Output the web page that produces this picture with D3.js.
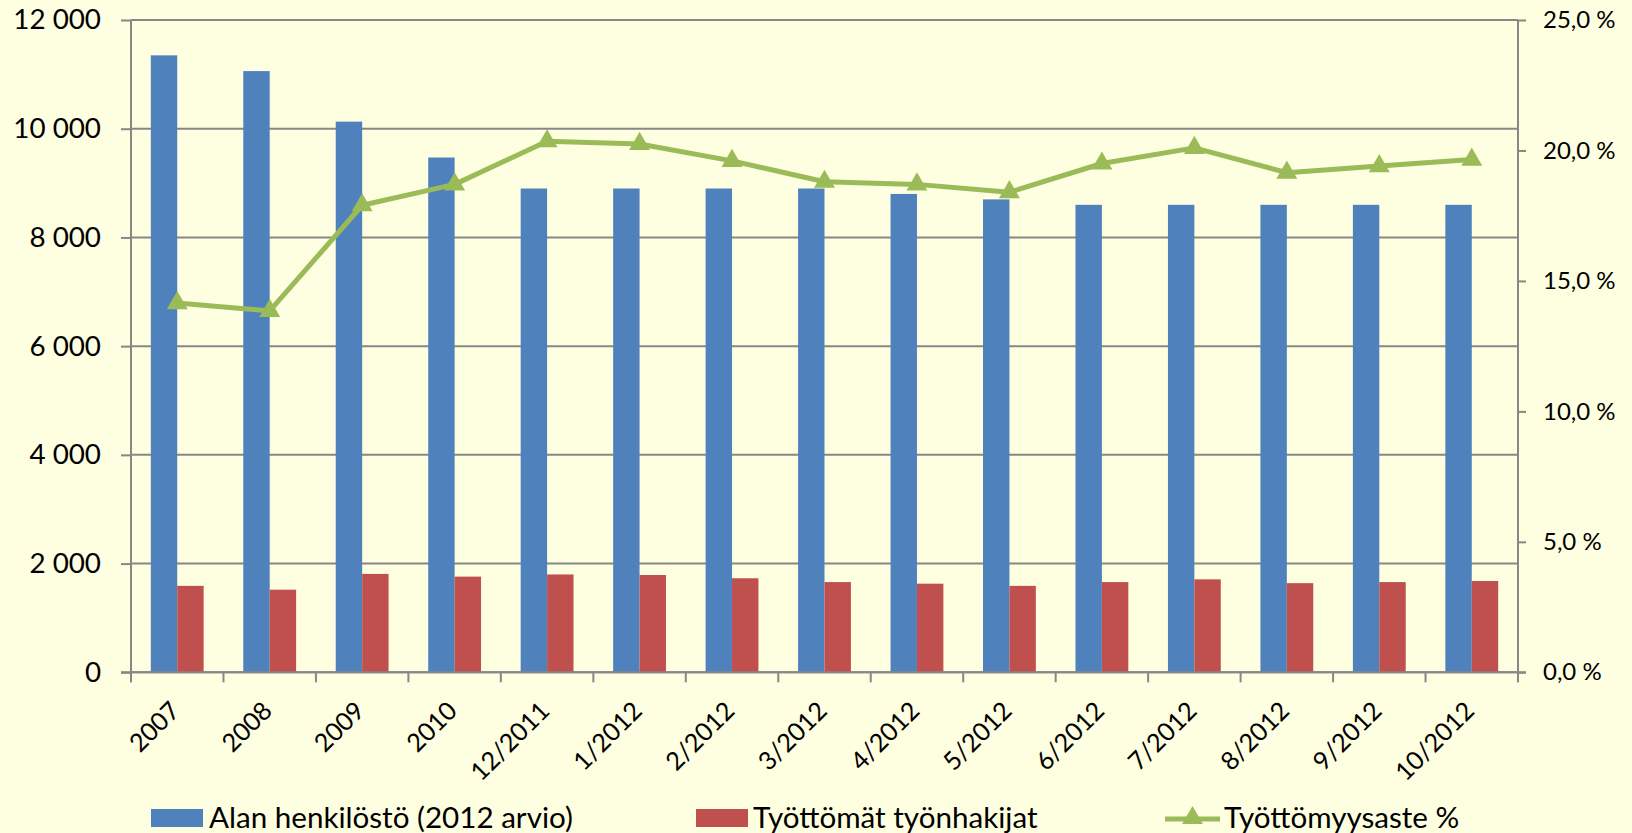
<!DOCTYPE html>
<html>
<head>
<meta charset="utf-8">
<script src="https://cdn.jsdelivr.net/npm/d3@7"></script>
<style>
  html, body { margin: 0; padding: 0; background: #FEFEE0; }
  svg { display: block; }
  text { font-family: Lato, "Liberation Sans", sans-serif; fill: #000; }
</style>
</head>
<body>
<svg id="chart" width="1632" height="833"></svg>
<script>
const categories = ["2007","2008","2009","2010","12/2011","1/2012","2/2012","3/2012","4/2012","5/2012","6/2012","7/2012","8/2012","9/2012","10/2012"];
const staff = [11350,11060,10130,9470,8900,8900,8900,8900,8800,8700,8600,8600,8600,8600,8600];
const unemployed = [1590,1520,1810,1760,1800,1790,1730,1660,1630,1590,1660,1710,1640,1660,1680];
const rate = [14.15,13.85,17.9,18.7,20.35,20.25,19.6,18.8,18.7,18.4,19.5,20.1,19.15,19.4,19.65];
const leftTicks = [0,2000,4000,6000,8000,10000,12000];
const rightTicks = [0,5,10,15,20,25];
const seriesNames = ["Alan henkilöstö (2012 arvio)","Työttömät työnhakijat","Työttömyysaste %"];
const colors = ["#4F81BD","#C0504D","#9BBB59"];

const svg = d3.select("#chart");
const L = 131, R = 1518, T = 20, B = 672.3;
const grid = "#878787";

const x = d3.scaleBand().domain(categories).range([L, R]).padding(0);
const yL = d3.scaleLinear().domain([0, 12000]).range([B, T]);
const yR = d3.scaleLinear().domain([0, 25]).range([B, T]);
const bw = x.bandwidth() / 3.5;

const loc = d3.formatLocale({decimal: ",", thousands: "\u00a0", grouping: [3], currency: ["", ""]});
const fmtL = loc.format(",d");
const fmtR = d => loc.format(".1f")(d) + "\u00a0%";

// gridlines
svg.append("g").selectAll("line").data(leftTicks).join("line")
  .attr("x1", L).attr("x2", R)
  .attr("y1", d => yL(d)).attr("y2", d => yL(d))
  .attr("stroke", grid).attr("stroke-width", 2);

// bars
const gBars = svg.append("g");
gBars.selectAll("rect.s").data(categories).join("rect")
  .attr("class", "s")
  .attr("x", d => x(d) + x.bandwidth() / 2 - bw)
  .attr("width", bw)
  .attr("y", (d, i) => yL(staff[i]))
  .attr("height", (d, i) => B - yL(staff[i]))
  .attr("fill", colors[0]);
gBars.selectAll("rect.u").data(categories).join("rect")
  .attr("class", "u")
  .attr("x", d => x(d) + x.bandwidth() / 2)
  .attr("width", bw)
  .attr("y", (d, i) => yL(unemployed[i]))
  .attr("height", (d, i) => B - yL(unemployed[i]))
  .attr("fill", colors[1]);

// left axis
const axL = svg.append("g").attr("transform", `translate(${L},0)`)
  .call(d3.axisLeft(yL).tickValues(leftTicks).tickFormat(fmtL).tickSize(10).tickPadding(20));
axL.select(".domain").attr("stroke", grid).attr("stroke-width", 2).attr("d", `M0,${T}V${B + 10}`);
axL.selectAll(".tick line").attr("stroke", grid).attr("stroke-width", 2);
axL.selectAll(".tick text").style("font-size", "27.8px").attr("font-family", null);

// right axis
const axR = svg.append("g").attr("transform", `translate(${R},0)`)
  .call(d3.axisRight(yR).tickValues(rightTicks).tickFormat(fmtR).tickSize(8).tickPadding(17));
axR.select(".domain").attr("stroke", grid).attr("stroke-width", 2).attr("d", `M0,${T}V${B + 10}`);
axR.selectAll(".tick line").attr("stroke", grid).attr("stroke-width", 2);
axR.selectAll(".tick text").style("font-size", "24px").attr("font-family", null);

// bottom axis
const gx = svg.append("g").attr("transform", `translate(0,${B})`);
gx.append("line").attr("x1", L - 10).attr("x2", R + 8).attr("stroke", grid).attr("stroke-width", 2);
const bounds = categories.map(c => x(c)).concat([R]);
gx.selectAll("line.t").data(bounds).join("line").attr("class", "t")
  .attr("x1", d => d).attr("x2", d => d).attr("y1", 0).attr("y2", 10)
  .attr("stroke", grid).attr("stroke-width", 2);
gx.selectAll("text").data(categories).join("text")
  .attr("transform", d => `translate(${x(d) + x.bandwidth() / 2 + 4},${40}) rotate(-45)`)
  .attr("text-anchor", "end")
  .style("font-size", "25.2px")
  .text(d => d);

// line
const line = d3.line().x((d, i) => x(categories[i]) + x.bandwidth() / 2).y(d => yR(d));
svg.append("path").datum(rate).attr("d", line)
  .attr("fill", "none").attr("stroke", colors[2]).attr("stroke-width", 5).attr("stroke-linejoin", "round");
const tri = d3.symbol().type(d3.symbolTriangle).size(190);
svg.append("g").selectAll("path").data(rate).join("path")
  .attr("transform", (d, i) => `translate(${x(categories[i]) + x.bandwidth() / 2},${yR(d)})`)
  .attr("d", tri).attr("fill", colors[2]);

// legend
const lg = svg.append("g");
lg.append("rect").attr("x", 151).attr("y", 809).attr("width", 52).attr("height", 18).attr("fill", colors[0]);
lg.append("text").attr("x", 209).attr("y", 828).style("font-size", "29.6px").text(seriesNames[0]);
lg.append("rect").attr("x", 696).attr("y", 809).attr("width", 52).attr("height", 18).attr("fill", colors[1]);
lg.append("text").attr("x", 753).attr("y", 828).style("font-size", "29.6px").text(seriesNames[1]);
lg.append("line").attr("x1", 1165).attr("x2", 1220).attr("y1", 819).attr("y2", 819)
  .attr("stroke", colors[2]).attr("stroke-width", 5);
lg.append("path").attr("transform", "translate(1192.5,818)").attr("d", tri).attr("fill", colors[2]);
lg.append("text").attr("x", 1224).attr("y", 828).style("font-size", "29.6px").text(seriesNames[2]);
</script>
</body>
</html>
